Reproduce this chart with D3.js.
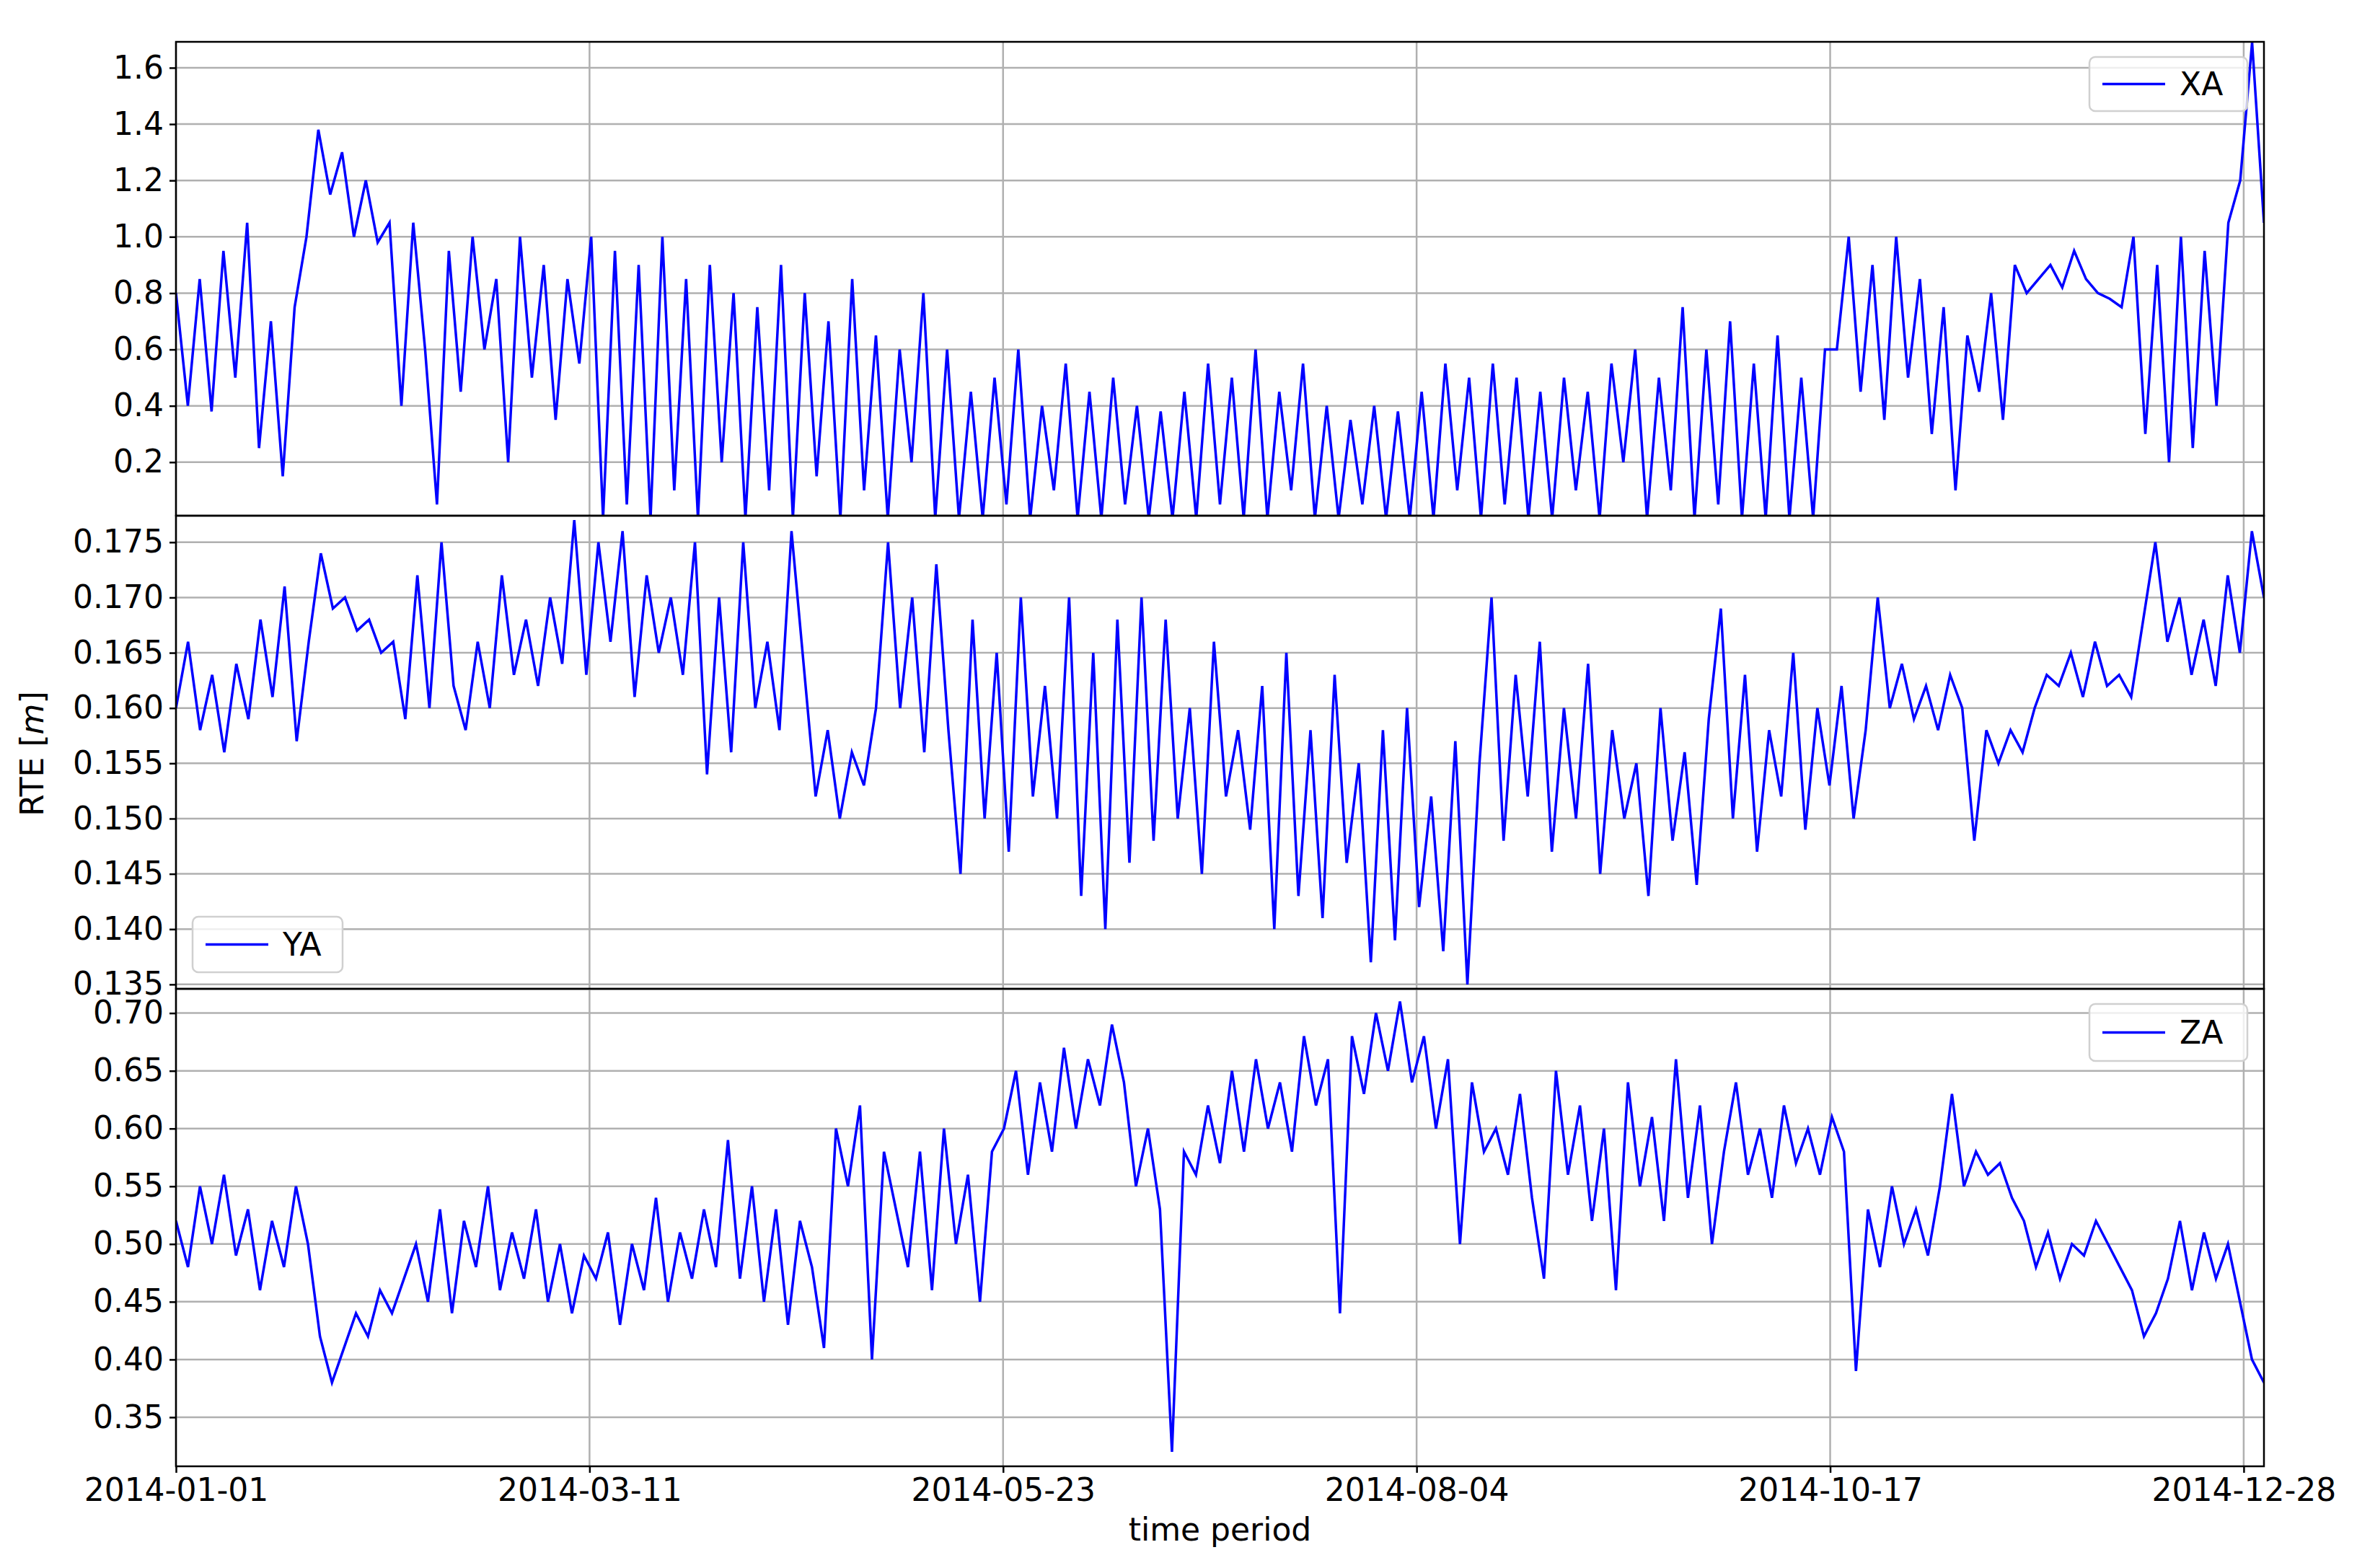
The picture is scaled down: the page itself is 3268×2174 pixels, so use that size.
<!DOCTYPE html>
<html><head><meta charset="utf-8">
<script src="https://cdn.jsdelivr.net/npm/d3@7"></script>
<style>body{margin:0;background:#fff}text{font-family:"DejaVu Sans",sans-serif}</style>
</head><body><svg id="c" width="3268" height="2174"></svg>
<script>
const xTickLabels = ["2014-01-01","2014-03-11","2014-05-23","2014-08-04","2014-10-17","2014-12-28"];
const xTickIndex = [0,1000,2000,3000,4000,5000];
const xSpan = 5049;

const XA = [0.8,0.4,0.85,0.38,0.95,0.5,1.05,0.25,0.7,0.15,
0.75,1.0,1.38,
1.15,1.3,1.0,1.2,0.98,1.05,
0.4,1.05,0.6,0.05,0.95,0.45,1.0,0.6,0.85,0.2,1.0,0.5,0.9,0.35,0.85,0.55,
1.0,0.0,0.95,0.05,0.9,0.0,1.0,0.1,0.85,0.0,0.9,0.2,0.8,0.0,0.75,0.1,0.9,0.0,0.8,0.15,0.7,0.0,0.85,0.1,0.65,0.0,0.6,0.2,0.8,0.0,0.6,
0.0,0.45,0.0,0.5,0.05,0.6,0.0,0.4,0.1,0.55,0.0,0.45,0.0,0.5,0.05,0.4,0.0,0.38,0.0,0.45,0.0,0.55,0.05,0.5,0.0,0.6,0.0,0.45,0.1,0.55,0.0,0.4,0.0,0.35,0.05,0.4,0.0,0.38,0.0,0.45,0.0,0.55,0.1,0.5,0.0,0.55,0.05,0.5,0.0,0.45,
0.0,0.5,0.1,0.45,0.0,0.55,0.2,0.6,0.0,0.5,0.1,0.75,0.0,0.6,0.05,0.7,0.0,0.55,0.0,0.65,0.0,0.5,0.0,0.6,
0.6,1.0,0.45,0.9,0.35,1.0,0.5,0.85,
0.3,0.75,0.1,0.65,0.45,0.8,0.35,0.9,
0.8,0.85,0.9,0.82,0.95,0.85,0.8,0.78,0.75,
1.0,0.3,0.9,0.2,1.0,0.25,0.95,0.4,1.05,
1.2,1.69,1.05];

const YA = [0.160,0.166,0.158,0.163,0.156,0.164,0.159,0.168,0.161,0.171,0.157,0.166,
0.174,0.169,0.170,0.167,0.168,0.165,
0.166,0.159,0.172,0.160,0.175,0.162,0.158,0.166,0.160,0.172,0.163,0.168,0.162,0.170,0.164,
0.177,0.163,0.175,0.166,0.176,0.161,0.172,0.165,0.170,0.163,0.175,
0.154,0.170,0.156,0.175,0.160,0.166,0.158,0.176,0.164,
0.152,0.158,0.150,0.156,0.153,0.160,
0.175,0.160,0.170,0.156,0.173,0.158,
0.145,0.168,0.150,0.165,0.147,0.170,0.152,0.162,
0.150,0.170,0.143,0.165,0.140,0.168,0.146,0.170,
0.148,0.168,0.150,0.160,0.145,0.166,0.152,0.158,0.149,0.162,
0.140,0.165,0.143,0.158,0.141,0.163,0.146,0.155,
0.137,0.158,0.139,0.160,0.142,0.152,0.138,0.157,0.135,
0.155,0.170,0.148,0.163,0.152,0.166,0.147,0.160,0.150,0.164,
0.145,0.158,0.150,0.155,0.143,0.160,0.148,0.156,0.144,0.159,
0.169,0.150,0.163,0.147,0.158,0.152,0.165,0.149,0.160,0.153,0.162,0.150,0.158,
0.170,0.160,0.164,0.159,0.162,0.158,0.163,0.160,
0.148,0.158,0.155,0.158,0.156,
0.160,0.163,0.162,0.165,0.161,0.166,0.162,0.163,0.161,
0.168,0.175,0.166,0.170,0.163,0.168,0.162,0.172,0.165,0.176,0.170];

const ZA = [0.52,0.48,0.55,0.50,0.56,0.49,0.53,0.46,0.52,0.48,0.55,0.50,
0.42,0.38,
0.41,0.44,0.42,0.46,0.44,0.47,
0.50,0.45,0.53,0.44,0.52,0.48,0.55,0.46,0.51,0.47,0.53,0.45,0.50,0.44,0.49,0.47,0.51,0.43,0.50,0.46,0.54,0.45,0.51,0.47,0.53,0.48,
0.59,0.47,0.55,0.45,0.53,0.43,0.52,0.48,
0.41,0.60,0.55,0.62,0.40,0.58,0.53,
0.48,0.58,0.46,0.60,0.50,0.56,0.45,0.58,
0.60,0.65,0.56,0.64,0.58,0.67,0.60,0.66,0.62,0.69,0.64,
0.55,0.60,0.53,0.32,0.58,0.56,
0.62,0.57,0.65,0.58,0.66,0.60,0.64,0.58,0.68,0.62,0.66,0.44,0.68,0.63,0.70,0.65,0.71,0.64,0.68,0.60,0.66,0.50,0.64,0.58,0.60,
0.56,0.63,0.54,0.47,0.65,0.56,0.62,0.52,0.60,0.46,0.64,0.55,0.61,0.52,0.66,0.54,0.62,0.50,0.58,0.64,0.56,0.60,0.54,0.62,0.57,0.60,0.56,0.61,0.58,
0.39,
0.53,0.48,0.55,0.50,0.53,0.49,0.55,
0.63,0.55,0.58,0.56,0.57,0.54,
0.52,0.48,0.51,0.47,0.50,0.49,0.52,0.50,0.48,0.46,
0.42,0.44,0.47,
0.52,0.46,0.51,0.47,0.50,0.45,
0.40,0.38];

const XAticks = [0.2,0.4,0.6,0.8,1.0,1.2,1.4,1.6];
const YAticks = [0.135,0.140,0.145,0.150,0.155,0.160,0.165,0.170,0.175];
const ZAticks = [0.35,0.40,0.45,0.50,0.55,0.60,0.65,0.70];

const L=244,R=3139;
const svg=d3.select("#c");
const x=d3.scaleLinear().domain([0,xSpan]).range([L,R]);
const FS=44;
const panels=[
 {name:"XA",data:XA,ticks:XAticks,dom:[0.01,1.692],top:58,bot:715,fmt:d3.format(".1f"),leg:[2897,79,3116,154]},
 {name:"YA",data:YA,ticks:YAticks,dom:[0.1346,0.1774],top:715,bot:1371,fmt:d3.format(".3f"),leg:[267,1271,475,1348]},
 {name:"ZA",data:ZA,ticks:ZAticks,dom:[0.3075,0.721],top:1371,bot:2033,fmt:d3.format(".2f"),leg:[2897,1392,3116,1471]}
];
panels.forEach((p,i)=>{
 const y=d3.scaleLinear().domain(p.dom).range([p.bot,p.top]);
 const g=svg.append("g");
 g.append("clipPath").attr("id","cp"+i).append("rect").attr("x",L).attr("y",p.top).attr("width",R-L).attr("height",p.bot-p.top);
 // grid
 g.selectAll(".hg").data(p.ticks).join("line").attr("x1",L).attr("x2",R).attr("y1",d=>y(d)).attr("y2",d=>y(d)).attr("stroke","#b0b0b0").attr("stroke-width",2.5);
 g.selectAll(".vg").data(xTickIndex).join("line").attr("x1",d=>x(d)).attr("x2",d=>x(d)).attr("y1",p.top).attr("y2",p.bot).attr("stroke","#b0b0b0").attr("stroke-width",2.5);
 const xs=d3.scaleLinear().domain([0,p.data.length-1]).range([0,xSpan]);
 const line=d3.line().x((d,j)=>x(xs(j))).y(d=>y(d));
 g.append("path").datum(p.data).attr("d",line).attr("fill","none").attr("stroke","#0000ff").attr("stroke-width",3.5).attr("clip-path","url(#cp"+i+")");
 const ya=d3.axisLeft(y).tickValues(p.ticks).tickFormat(p.fmt).tickSize(9).tickPadding(8);
 const ag=g.append("g").attr("transform",`translate(${L},0)`).call(ya);
 ag.select(".domain").remove();
 ag.selectAll("line").attr("stroke-width",2.5);
 ag.selectAll("text").attr("font-size",FS).attr("font-family","DejaVu Sans").attr("fill","#000");
 g.append("rect").attr("x",L).attr("y",p.top).attr("width",R-L).attr("height",p.bot-p.top).attr("fill","none").attr("stroke","#000").attr("stroke-width",2.5);
 // legend
 const [lx0,ly0,lx1,ly1]=p.leg;
 const lg=g.append("g");
 lg.append("rect").attr("x",lx0).attr("y",ly0).attr("width",lx1-lx0).attr("height",ly1-ly0).attr("rx",8).attr("fill","#fff").attr("fill-opacity",0.8).attr("stroke","#d0d0d0").attr("stroke-width",2.5);
 const my=(ly0+ly1)/2;
 lg.append("line").attr("x1",lx0+18).attr("x2",lx0+105).attr("y1",my).attr("y2",my).attr("stroke","#0000ff").attr("stroke-width",3.5);
 lg.append("text").attr("x",lx0+125).attr("y",my).attr("dy","0.35em").attr("font-size",FS).text(p.name);
});
const xa=d3.axisBottom(x).tickValues(xTickIndex).tickFormat((d,i)=>xTickLabels[i]).tickSize(9).tickPadding(8);
const xg=svg.append("g").attr("transform","translate(0,2033)").call(xa);
xg.select(".domain").remove();
xg.selectAll("line").attr("stroke-width",2.5);
xg.selectAll("text").attr("font-size",FS).attr("font-family","DejaVu Sans").attr("fill","#000");
svg.append("text").attr("x",(L+R)/2).attr("y",2136).attr("text-anchor","middle").attr("font-size",FS).text("time period");
const yl=svg.append("text").attr("transform","translate(60,1045) rotate(-90)").attr("text-anchor","middle").attr("font-size",FS);
yl.append("tspan").text("RTE [");
yl.append("tspan").attr("font-style","italic").text("m");
yl.append("tspan").text("]");
</script></body></html>
